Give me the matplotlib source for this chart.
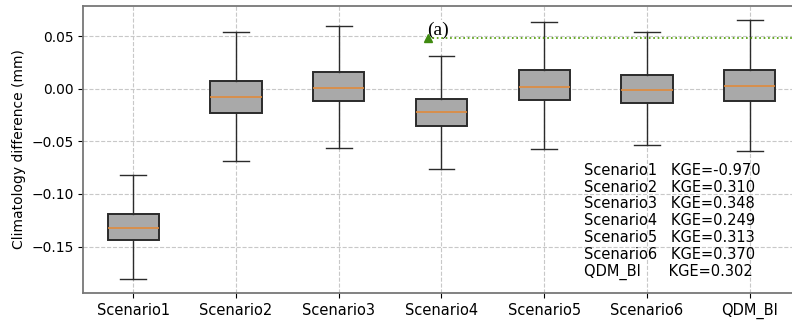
import matplotlib
matplotlib.use("Agg")
import matplotlib.pyplot as plt

# box statistics (mm)
labels = ["Scenario1", "Scenario2", "Scenario3", "Scenario4", "Scenario5", "Scenario6", "QDM_BI"]
whislo = [-0.181, -0.069, -0.056, -0.076, -0.057, -0.054, -0.059]
q1 = [-0.144, -0.0228, -0.012, -0.035, -0.011, -0.014, -0.012]
med = [-0.132, -0.0076, 0.001, -0.022, 0.002, -0.001, 0.003]
q3 = [-0.1195, 0.0076, 0.016, -0.0095, 0.018, 0.013, 0.018]
whishi = [-0.0816, 0.054, 0.060, 0.031, 0.0636, 0.054, 0.0655]
kge = [-0.970, 0.310, 0.348, 0.249, 0.313, 0.370, 0.302]
ref_x = 3.87
ref_y = 0.048

stats = []
for i in range(len(labels)):
    stats.append({"label": labels[i], "whislo": whislo[i], "q1": q1[i], "med": med[i],
                  "q3": q3[i], "whishi": whishi[i], "fliers": []})

fig = plt.figure(figsize=(7.92, 3.2), dpi=100)
ax = fig.add_axes([0.105, 0.085, 0.9, 0.896])

ax.bxp(stats, positions=range(1, 8), widths=0.5, patch_artist=True,
       boxprops=dict(facecolor="#a9a9a9", edgecolor="#2b2b2b", linewidth=1.4),
       medianprops=dict(color="#e08a3c", linewidth=1.2),
       whiskerprops=dict(color="#2b2b2b", linewidth=1.0),
       capprops=dict(color="#2b2b2b", linewidth=1.0))

ax.grid(True, linestyle="--", color="#c8c8c8", linewidth=0.8)
ax.set_axisbelow(True)

ax.plot([ref_x, 7.6], [ref_y, ref_y], color="#4c9a00", linestyle=":", linewidth=1.2, zorder=5)
ax.plot([ref_x], [ref_y], marker="^", color="#3f8a10", markersize=6, zorder=6, clip_on=False)
ax.text(ref_x - 0.01, ref_y - 0.0005, "(a)", family="Liberation Serif", fontsize=14,
        va="bottom", ha="left", zorder=4,
        bbox=dict(facecolor="white", edgecolor="none", pad=1.0))

lines = []
for name, k in zip(labels, kge):
    if name == "QDM_BI":
        lines.append(f"{name}      KGE={k:.3f}")
    else:
        lines.append(f"{name}   KGE={k:.3f}")
ax.text(5.39, -0.0705, "\n".join(lines), fontsize=10.5, va="top", ha="left", linespacing=1.15)

ax.set_xlim(0.513, 7.45)
ax.set_ylim(-0.194, 0.0785)
ax.set_yticks([-0.15, -0.10, -0.05, 0.0, 0.05])
ax.set_ylabel("Climatology difference (mm)", fontsize=10)
ax.tick_params(axis="y", labelsize=10)
ax.tick_params(axis="x", labelsize=10.5)
for s in ax.spines.values():
    s.set_color("#777777")
    s.set_linewidth(1.3)

fig.savefig("out.png", dpi=100)
